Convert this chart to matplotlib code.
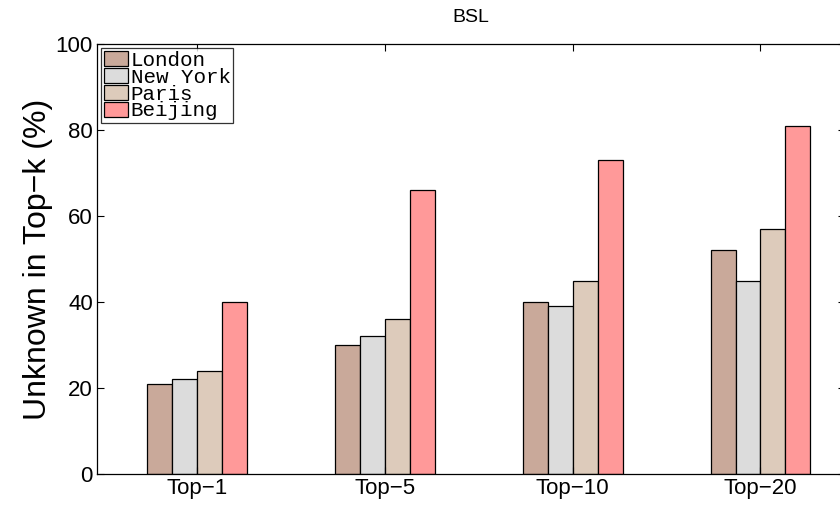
import matplotlib.pyplot as plt
import numpy as np

groups = ['Top\u22121', 'Top\u22125', 'Top\u221210', 'Top\u221220']
cities = ['London', 'New York', 'Paris', 'Beijing']
london = [21, 30, 40, 52]
new_york = [22, 32, 39, 45]
paris = [24, 36, 45, 57]
beijing = [40, 66, 73, 81]
colors = ['#C9A99A', '#DCDCDC', '#DDCBBB', '#FF9999']

plt.rcParams['font.family'] = ['Liberation Sans', 'DejaVu Sans']

fig = plt.figure(figsize=(8.4, 5.11), dpi=100)
# axes run past the right edge of the figure
ax = fig.add_axes([97 / 840, 1 - 474 / 511, (845 - 97) / 840, (474 - 44) / 511])

x = np.arange(1, len(groups) + 1)
w = 0.133
series = [london, new_york, paris, beijing]
for i, vals in enumerate(series):
    ax.bar(x + (i - 1.5) * w, vals, w, color=colors[i], edgecolor='black',
           linewidth=0.9, label=cities[i])

ax.set_xlim(0.467, 4.45)
ax.set_ylim(0, 100)
ax.set_xticks(x)
ax.set_xticklabels(groups)
ax.set_yticks(range(0, 101, 20))
ax.tick_params(axis='both', direction='in', labelsize=16, top=True, right=True,
               length=5, width=0.8, pad=3)
for s in ax.spines.values():
    s.set_linewidth(0.9)

ax.set_ylabel('Unknown in Top\u2212k (%)', fontsize=23, labelpad=2)
ax.set_title('BSL', fontsize=14, pad=16)

leg = ax.legend(loc='upper left', prop={'family': 'Liberation Mono', 'size': 15},
                frameon=True, fancybox=False, borderpad=0.12, labelspacing=-0.1,
                handlelength=1.15, handleheight=0.75, handletextpad=0.15,
                borderaxespad=0.2)
leg.get_frame().set_edgecolor('black')
leg.get_frame().set_linewidth(0.9)

fig.savefig('out.png', dpi=100)
